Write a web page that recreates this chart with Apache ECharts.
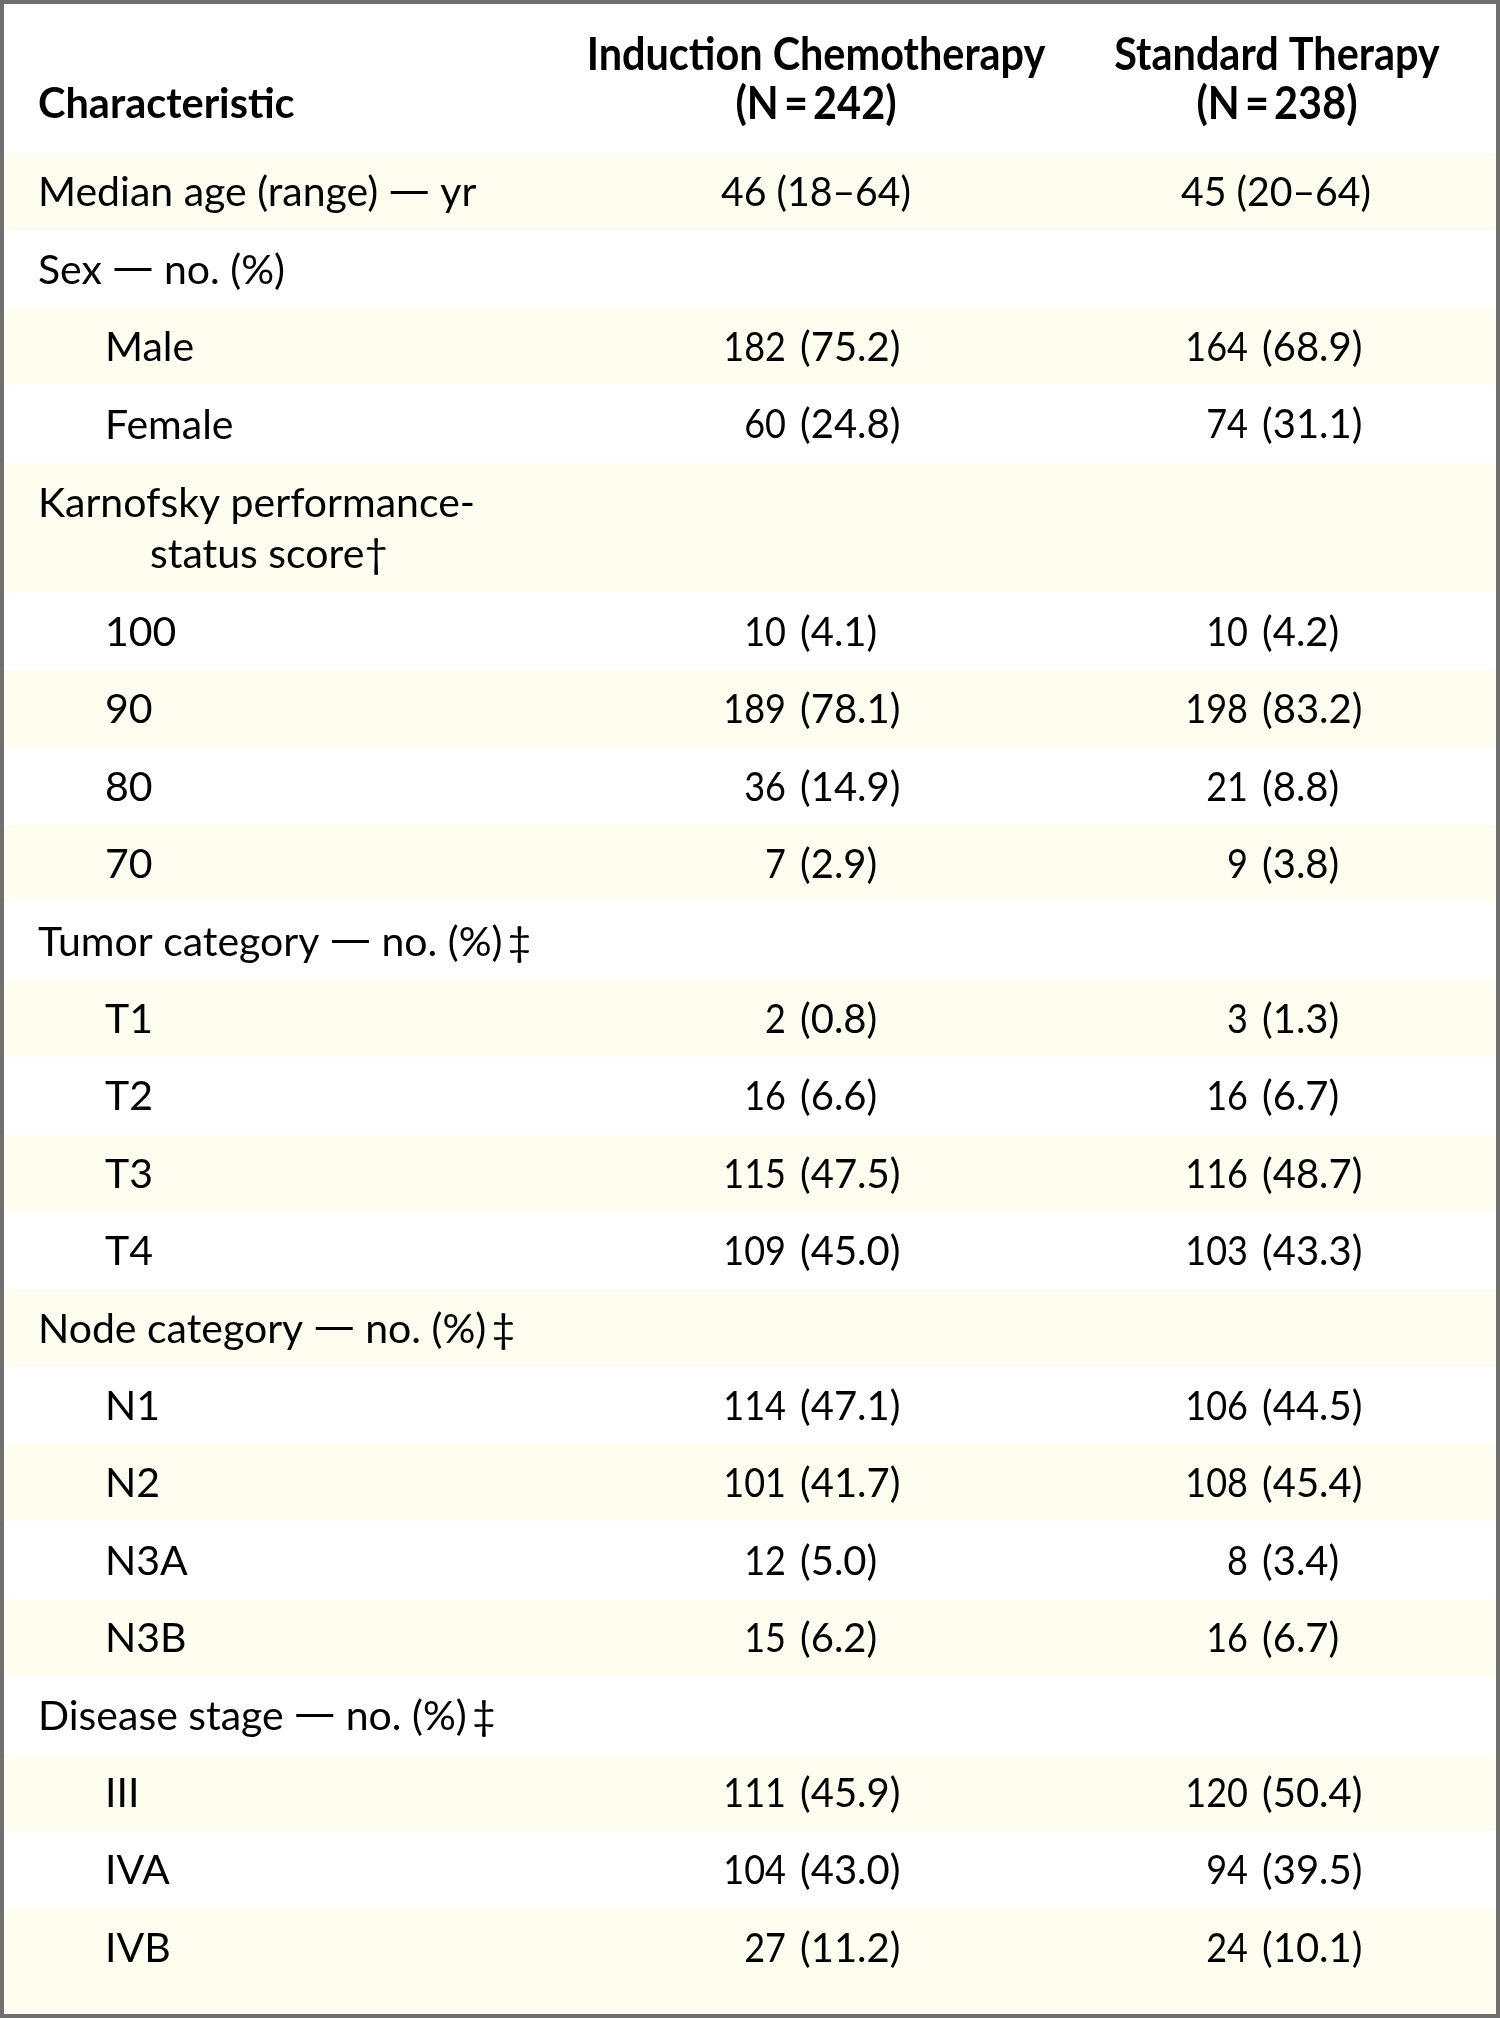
<!DOCTYPE html>
<html><head><meta charset="utf-8">
<script src="https://cdn.jsdelivr.net/npm/echarts@6/dist/echarts.min.js"></script>
<style>html,body{margin:0;padding:0;background:#fff}#chart{width:1500px;height:2018px}</style>
</head><body><div id="chart"></div>
<script>
// ---- data ----
const headerCharacteristic = 'Characteristic';
const groupNames = ['Induction Chemotherapy', 'Standard Therapy'];
const groupSizes = [242, 238];
const characteristics = [
  'Median age (range) — yr', 'Sex — no. (%)', 'Male', 'Female',
  'Karnofsky performance-\nstatus score†', '100', '90', '80', '70',
  'Tumor category — no. (%)‡', 'T1', 'T2', 'T3', 'T4',
  'Node category — no. (%)‡', 'N1', 'N2', 'N3A', 'N3B',
  'Disease stage — no. (%)‡', 'III', 'IVA', 'IVB'
];
const indentLevels = [0,0,1,1, 0,1,1,1,1, 0,1,1,1,1, 0,1,1,1,1, 0,1,1,1];
const inductionCounts = [46, null, 182, 60, null, 10, 189, 36, 7, null, 2, 16, 115, 109, null, 114, 101, 12, 15, null, 111, 104, 27];
const inductionPct    = [null, null, 75.2, 24.8, null, 4.1, 78.1, 14.9, 2.9, null, 0.8, 6.6, 47.5, 45.0, null, 47.1, 41.7, 5.0, 6.2, null, 45.9, 43.0, 11.2];
const standardCounts  = [45, null, 164, 74, null, 10, 198, 21, 9, null, 3, 16, 116, 103, null, 106, 108, 8, 16, null, 120, 94, 24];
const standardPct     = [null, null, 68.9, 31.1, null, 4.2, 83.2, 8.8, 3.8, null, 1.3, 6.7, 48.7, 43.3, null, 44.5, 45.4, 3.4, 6.7, null, 50.4, 39.5, 10.1];
const ageRanges = [[18, 64], [20, 64]];

// ---- layout ----
const ROW = 77.4, TWO_LINE = 1.68, BOTTOM_PAD = 0.35;
const SHADE = '#fffdf0';
let acc = 0;
const rows = characteristics.map((c, i) => {
  const lines = c.split('\n').length;
  const h = lines > 1 ? TWO_LINE : 1;
  const r = [i, acc, acc + h];
  acc += h;
  return r;
});
const totalUnits = acc + BOTTOM_PAD;

const cols = [
  {center: 816, countRight: 786, detailLeft: 800, counts: inductionCounts, pcts: inductionPct},
  {center: 1276, countRight: 1248, detailLeft: 1262, counts: standardCounts, pcts: standardPct}
];
const LABEL_FONT = '41px Lato';
const NUM_FONT = '40px Lato';
const HEAD_FONT = 'bold 46px Lato';
const labelRich = {d: {font: '41px "DejaVu Sans"', fill: '#000'}};
function richLabel(s) { return s.replace(/—/g, '{d|—}').replace(/\)‡/g, ')\u2009‡'); }

const chart = echarts.init(document.getElementById('chart'), null, {renderer: 'canvas'});
chart.setOption({
  animation: false,
  backgroundColor: '#fff',
  grid: {left: 0, right: 0, top: 153, height: totalUnits * ROW},
  xAxis: {type: 'value', min: 0, max: 1500, show: false},
  yAxis: {type: 'value', min: 0, max: totalUnits, inverse: true, show: false},
  series: [{
    type: 'custom',
    clip: false,
    encode: {x: 0, y: [1, 2]},
    data: rows,
    renderItem(params, api) {
      const i = api.value(0);
      const y0 = api.coord([0, api.value(1)])[1];
      const last = i === characteristics.length - 1;
      const y1 = api.coord([0, last ? totalUnits : api.value(2)])[1];
      const children = [];
      if (i % 2 === 0) {
        children.push({type: 'rect', shape: {x: 4, y: y0, width: 1492, height: y1 - y0}, style: {fill: SHADE}});
      }
      const yc = api.coord([0, api.value(1) + 0.5])[1] + 1.5;
      const lines = characteristics[i].split('\n');
      const baseX = indentLevels[i] ? 105 : 38;
      if (lines.length === 1) {
        children.push({type: 'text', x: baseX, y: yc, style: {text: richLabel(lines[0]), rich: labelRich, font: LABEL_FONT, fill: '#000', align: 'left', verticalAlign: 'middle'}});
      } else {
        const mid = (y0 + api.coord([0, api.value(2)])[1]) / 2;
        lines.forEach((ln, k) => {
          children.push({type: 'text', x: k === 0 ? baseX : 150, y: mid + (k - 0.5) * 51 + 1.5,
            style: {text: richLabel(ln), rich: labelRich, font: LABEL_FONT, fill: '#000', align: 'left', verticalAlign: 'middle'}});
        });
      }
      cols.forEach((c, gi) => {
        if (c.counts[i] == null) return;
        if (i === 0) {
          children.push({type: 'text', x: c.center, y: yc, scaleX: 0.98,
            style: {text: c.counts[i] + ' (' + ageRanges[gi][0] + '–' + ageRanges[gi][1] + ')', font: NUM_FONT, fill: '#000', align: 'center', verticalAlign: 'middle'}});
          return;
        }
        children.push({type: 'text', x: c.countRight, y: yc, scaleX: 0.9,
          style: {text: String(c.counts[i]), font: NUM_FONT, fill: '#000', align: 'right', verticalAlign: 'middle'}});
        children.push({type: 'text', x: c.detailLeft, y: yc, scaleX: 1.0,
          style: {text: '(' + c.pcts[i].toFixed(1) + ')', font: NUM_FONT, fill: '#000', align: 'left', verticalAlign: 'middle'}});
      });
      return {type: 'group', children};
    }
  }],
  graphic: [
    {type: 'text', x: 38, y: 105, style: {text: headerCharacteristic, font: 'bold 41.5px Lato', fill: '#000', align: 'left', verticalAlign: 'middle'}},
    {type: 'text', x: 816, y: 55, scaleX: 0.9, style: {text: groupNames[0], font: HEAD_FONT, fill: '#000', align: 'center', verticalAlign: 'middle'}},
    {type: 'text', x: 816, y: 104, scaleX: 0.9, style: {text: '(N\u2009=\u2009' + groupSizes[0] + ')', font: HEAD_FONT, fill: '#000', align: 'center', verticalAlign: 'middle'}},
    {type: 'text', x: 1277, y: 55, scaleX: 0.9, style: {text: groupNames[1], font: HEAD_FONT, fill: '#000', align: 'center', verticalAlign: 'middle'}},
    {type: 'text', x: 1277, y: 104, scaleX: 0.9, style: {text: '(N\u2009=\u2009' + groupSizes[1] + ')', font: HEAD_FONT, fill: '#000', align: 'center', verticalAlign: 'middle'}},
    {type: 'rect', z: 100, shape: {x: 2, y: 2, width: 1496, height: 2014}, style: {fill: null, stroke: '#6f6f6f', lineWidth: 4}}
  ]
});
</script></body></html>
